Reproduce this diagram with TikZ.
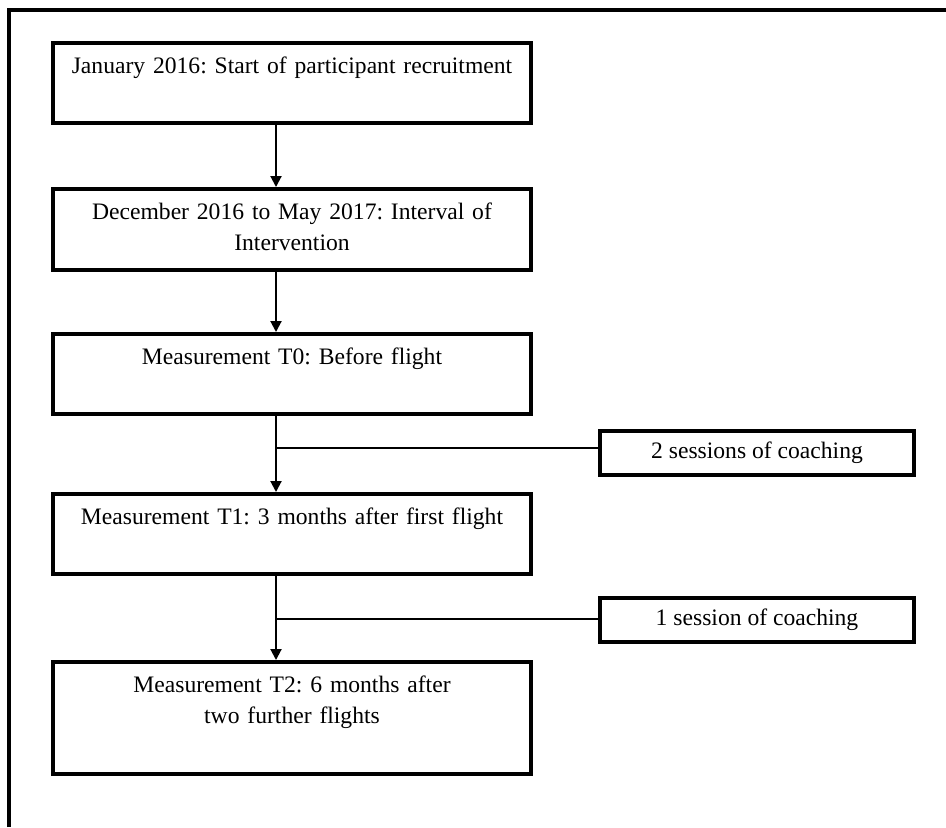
\documentclass[tikz,border=0pt]{standalone}
\usepackage{fontspec}
\setmainfont{Liberation Serif}
\frenchspacing
\usetikzlibrary{calc,arrows.meta}
\tikzset{
	stagebox/.style={draw, line width=2pt, rectangle, anchor=north, text width=231pt, inner xsep=4pt, inner ysep=0pt, align=center, text height=15pt, text depth=25pt, font=\fontsize{11.8}{15.5}\selectfont},
	sidebox/.style={draw, line width=2pt, rectangle, minimum width=157pt, minimum height=22pt, inner sep=0pt, font=\fontsize{11.8}{15.5}\selectfont},
	flowarrow/.style={line width=1pt, -{Triangle[width=5.5pt,length=5.5pt]}},
	branchline/.style={line width=0.6pt},
}

\begin{document}
\begin{tikzpicture}[x=0.5pt, y=-0.5pt]
		%%%%% START %%%%%
		\useasboundingbox (0, 0) rectangle (946, 827);
		
		\draw[line width=2pt, line join=miter] (9, 827) -- (9, 10) -- (946, 10);
		
		\node[stagebox] (recruit) at (292, 41) {January 2016: Start of participant recruitment};
		\node[stagebox, text depth=25.5pt] (interval) at (292, 187) {December 2016 to May 2017: Interval of\\Intervention};
		\node[stagebox] (mtzero) at (292, 332) {Measurement T0: Before flight};
		\node[stagebox] (mtone) at (292, 492) {Measurement T1: 3 months after first flight};
		\node[stagebox, text depth=41pt] (mttwo) at (292, 660) {Measurement T2: 6 months after\\two further flights};
		
		\node[sidebox] (coachtwo) at (757, 453) {2 sessions of coaching};
		\node[sidebox] (coachone) at (757, 620) {1 session of coaching};
		
		\coordinate (axis) at (276, 0);
		\coordinate (jtwo) at (276, 448);
		\coordinate (jone) at (276, 619);
		
		\draw[flowarrow] (recruit.south -| axis) -- (interval.north -| axis);
		\draw[flowarrow] (interval.south -| axis) -- (mtzero.north -| axis);
		\draw[flowarrow] (mtzero.south -| axis) -- (mtone.north -| axis);
		\draw[flowarrow] (mtone.south -| axis) -- (mttwo.north -| axis);
		
		\draw[branchline] (jtwo) -- (jtwo -| coachtwo.west);
		\draw[branchline] (jone) -- (jone -| coachone.west);
		
		%%%%% END %%%%%
\end{tikzpicture}
\end{document}
